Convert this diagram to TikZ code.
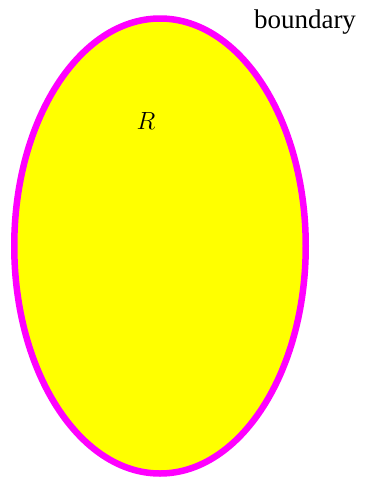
\documentclass[tikz,border=0pt]{standalone}
\usepackage{fontspec}
\setmainfont{Liberation Serif}
\usetikzlibrary{shapes.geometric}
\definecolor{fillyellow}{RGB}{255,255,0}
\definecolor{rim}{RGB}{255,0,255}
\tikzset{
  region/.style={draw=rim, fill=fillyellow, line width=6.5pt},
  lbl/.style={inner sep=0pt, font=\fontsize{27}{30}\selectfont}
}
\begin{document}
\begin{tikzpicture}[x=1pt,y=1pt]
\useasboundingbox (0,0) rectangle (368,-477);
\node[region, ellipse, minimum width=291.5pt, minimum height=455pt, inner sep=0pt] (reg) at (160,-246) {};
\node[lbl, font=\fontsize{30}{34}\selectfont] (r) at (146,-121) {$R$};
\node[lbl, anchor=base] (bd) at (305,-28) {boundary};
\end{tikzpicture}
\end{document}
